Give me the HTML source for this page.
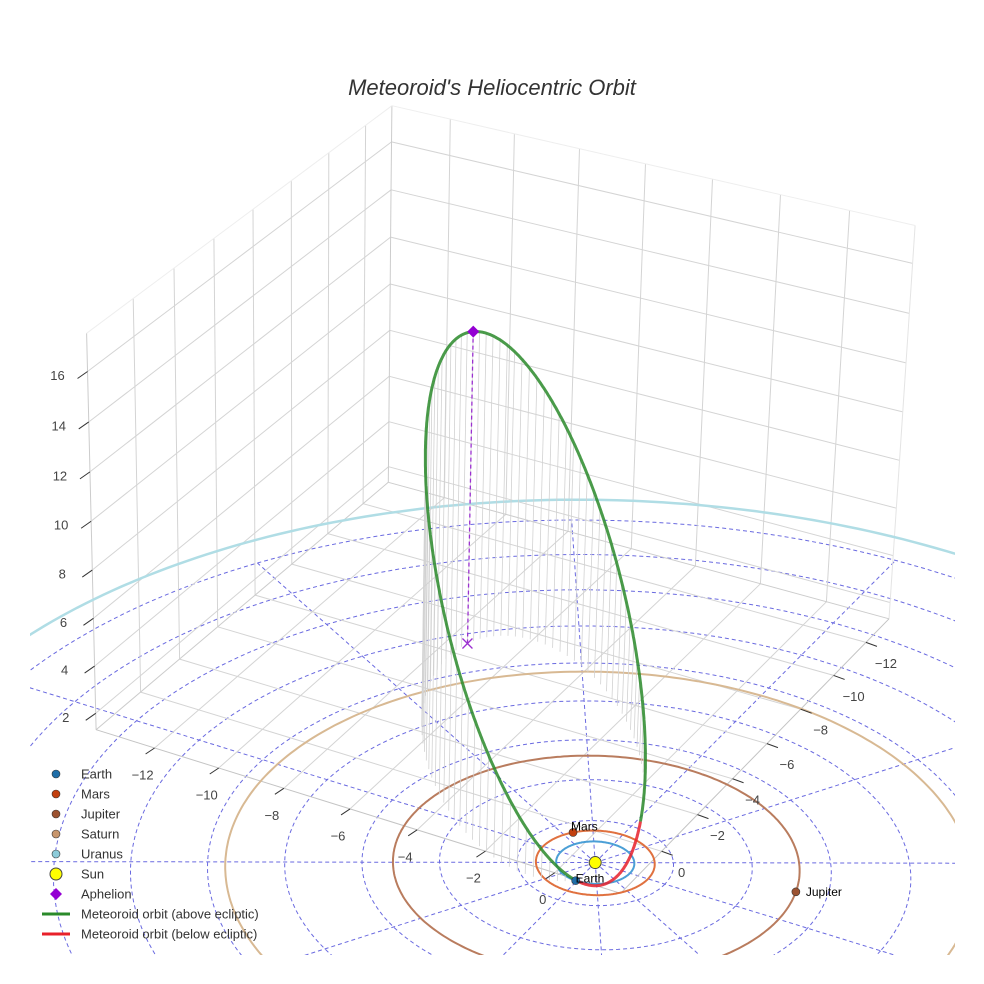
<!DOCTYPE html>
<html><head><meta charset="utf-8"><style>
html,body{margin:0;padding:0;background:#fff;overflow:hidden;width:984px;height:984px;}
svg{display:block;font-family:"Liberation Sans",sans-serif;overflow:hidden;}
</style></head><body>
<svg id="chart" width="984" height="984" viewBox="0 0 984 984">
<defs><clipPath id="eclip"><rect x="30" y="0" width="925" height="955"/></clipPath></defs>
<rect width="984" height="984" fill="#fff"/>
<text x="492" y="95" text-anchor="middle" font-size="22" font-style="italic" fill="#333">Meteoroid's Heliocentric Orbit</text>
<g id="ecliptic" clip-path="url(#eclip)"></g>
<g id="box"></g>
<g id="orbits" clip-path="url(#eclip)"></g>
<g id="meteor"></g>
<g id="ticks"></g>
<g id="legend"></g>
</svg>
<script>
// ---- data ----
const planetNames = ["Earth","Mars","Jupiter","Saturn","Uranus"];
const planetRadiiAU = [1.0, 1.52, 5.2, 9.54, 19.2];
const planetAnglesDeg = [92, 220, 345, 55, 70];
const orbitA = 9.1, orbitE = 0.921, orbitIncDeg = 123, orbitNodeDeg = 272.5, orbitPeriDeg = 244;
const xTicks = [-12,-10,-8,-6,-4,-2,0];
const yTicks = [-12,-10,-8,-6,-4,-2,0];
const zTicks = [2,4,6,8,10,12,14,16];
const gridRadii = [2,4,6,8,10,12,14,16,18];
const gridAngles = [0,30,60,90,120,150,180,210,240,270,300,330];
const gridMaxR = 18;
// ---- layout / styles ----
const planetOrbitColors = ["#4b9fd6","#e0713f","#b97c5e","#d8b993","#b0dde5"];
const planetMarkerColors = ["#1f6ea8","#c2400f","#9c5230","#c8966c","#8ccbd9"];
const labelDx = [0,-2,10], labelDy = [2,-2,4];
const R = {xmin:-13.85,xmax:1.87,ymin:-13.45,ymax:2.24,zmin:1.3,zmax:17.5};
const calib = [
 [R.xmin,R.ymin,R.zmax,401,102],[R.xmax,R.ymin,R.zmax,911,230],[R.xmin,R.ymax,R.zmax,81,333],
 [R.xmin,R.ymin,R.zmin,378,493],[R.xmax,R.ymin,R.zmin,895,612],[R.xmin,R.ymax,R.zmin,99,726],
 [0,0,0,596,866],[0,R.ymax,R.zmin,557,875],[-12,R.ymax,R.zmin,159,743],
 [R.xmax,0,R.zmin,658,853],[R.xmax,-12,R.zmin,866,636],[0,0,R.zmin,596,832],[R.xmax,R.ymax,R.zmin,619,896]];
function solve(A,b){const n=b.length;for(let i=0;i<n;i++){let m=i;for(let k=i+1;k<n;k++)if(Math.abs(A[k][i])>Math.abs(A[m][i]))m=k;[A[i],A[m]]=[A[m],A[i]];[b[i],b[m]]=[b[m],b[i]];for(let k=i+1;k<n;k++){const f=A[k][i]/A[i][i];for(let j=i;j<n;j++)A[k][j]-=f*A[i][j];b[k]-=f*b[i];}}const x=new Array(n).fill(0);for(let i=n-1;i>=0;i--){let s=b[i];for(let j=i+1;j<n;j++)s-=A[i][j]*x[j];x[i]=s/A[i][i];}return x;}
const M=[],B=[];
calib.forEach(([X,Y,Z,u,v])=>{M.push([X,Y,Z,1,0,0,0,0,-u*X,-u*Y,-u*Z]);B.push(u);M.push([0,0,0,0,X,Y,Z,1,-v*X,-v*Y,-v*Z]);B.push(v);});
const N=Array.from({length:11},()=>new Array(11).fill(0)),Nb=new Array(11).fill(0);
for(let r=0;r<M.length;r++){for(let i=0;i<11;i++){Nb[i]+=M[r][i]*B[r];for(let j=0;j<11;j++)N[i][j]+=M[r][i]*M[r][j];}}
const P=solve(N,Nb);
function proj(x,y,z){const w=P[8]*x+P[9]*y+P[10]*z+1;return [(P[0]*x+P[1]*y+P[2]*z+P[3])/w,(P[4]*x+P[5]*y+P[6]*z+P[7])/w,w];}
const NS='http://www.w3.org/2000/svg';
function el(tag,attrs,parent){const e=document.createElementNS(NS,tag);for(const k in attrs)e.setAttribute(k,attrs[k]);parent.appendChild(e);return e;}
function pathFrom(pts){let d='';let pen=false;pts.forEach(p=>{if(p[2]<=0.05){pen=false;return;}d+=(pen?'L':'M')+p[0].toFixed(1)+' '+p[1].toFixed(1);pen=true;});return d;}
function line3(a,b,n){const pts=[];for(let i=0;i<=n;i++){const t=i/n;pts.push(proj(a[0]+(b[0]-a[0])*t,a[1]+(b[1]-a[1])*t,a[2]+(b[2]-a[2])*t));}return pathFrom(pts);}
function circle3(r,n){const pts=[];for(let i=0;i<=n;i++){const t=i/n*2*Math.PI;pts.push(proj(r*Math.cos(t),r*Math.sin(t),0));}return pathFrom(pts);}
const D=Math.PI/180;
const ecl=document.getElementById('ecliptic');
gridRadii.forEach(r=>{const e=el('path',{d:circle3(r,240),fill:'none',stroke:'#6a6ae0','stroke-width':1,'stroke-dasharray':'4,3'},ecl);

});
gridAngles.forEach(a=>{const e=el('path',{d:line3([0,0,0],[gridMaxR*Math.cos(a*D),gridMaxR*Math.sin(a*D),0],60),fill:'none',stroke:'#6a6ae0','stroke-width':1,'stroke-dasharray':'4,3'},ecl);

});
const box=document.getElementById('box');
function gl(a,b,c,w,name){const e=el('path',{d:line3(a,b,4),fill:'none',stroke:c,'stroke-width':w},box);

}
const g='#d4d4d4';
xTicks.forEach(x=>{gl([x,R.ymin,R.zmin],[x,R.ymin,R.zmax],g,1,'back-wall-gridline');gl([x,R.ymin,R.zmin],[x,R.ymax,R.zmin],g,1,'floor-gridline');});
yTicks.forEach(y=>{gl([R.xmin,y,R.zmin],[R.xmin,y,R.zmax],g,1,'side-wall-gridline');gl([R.xmin,y,R.zmin],[R.xmax,y,R.zmin],g,1,'floor-gridline');});
zTicks.forEach(z=>{gl([R.xmin,R.ymin,z],[R.xmax,R.ymin,z],g,1,'back-wall-gridline');gl([R.xmin,R.ymin,z],[R.xmin,R.ymax,z],g,1,'side-wall-gridline');});
gl([R.xmin,R.ymin,R.zmin],[R.xmin,R.ymin,R.zmax],'#ccc',1,'box-edge');
gl([R.xmax,R.ymin,R.zmin],[R.xmax,R.ymin,R.zmax],'#e4e4e4',1,'box-edge');
gl([R.xmin,R.ymax,R.zmin],[R.xmin,R.ymax,R.zmax],'#ccc',1,'box-edge');
gl([R.xmin,R.ymin,R.zmax],[R.xmax,R.ymin,R.zmax],'#eee',1,'box-edge');
gl([R.xmin,R.ymin,R.zmax],[R.xmin,R.ymax,R.zmax],'#eee',1,'box-edge');
gl([R.xmin,R.ymin,R.zmin],[R.xmax,R.ymin,R.zmin],'#ccc',1,'box-edge');
gl([R.xmin,R.ymin,R.zmin],[R.xmin,R.ymax,R.zmin],'#ccc',1,'box-edge');
gl([R.xmin,R.ymax,R.zmin],[R.xmax,R.ymax,R.zmin],'#c4c4c4',1,'x-axis-line');
gl([R.xmax,R.ymin,R.zmin],[R.xmax,R.ymax,R.zmin],'#c4c4c4',1,'y-axis-line');
const orb=document.getElementById('orbits');
planetRadiiAU.forEach((r,i)=>{const e=el('path',{d:circle3(r,360),fill:'none',stroke:planetOrbitColors[i],'stroke-width':i==4?2.5:2},orb);

});
const met=document.getElementById('meteor');
const b=orbitA*Math.sqrt(1-orbitE*orbitE),I=orbitIncDeg*D,O=orbitNodeDeg*D,W=orbitPeriDeg*D;
function orbitPos(E){const xo=orbitA*(Math.cos(E)-orbitE),yo=b*Math.sin(E);
return [xo*(Math.cos(O)*Math.cos(W)-Math.sin(O)*Math.sin(W)*Math.cos(I))-yo*(Math.cos(O)*Math.sin(W)+Math.sin(O)*Math.cos(W)*Math.cos(I)),
xo*(Math.sin(O)*Math.cos(W)+Math.cos(O)*Math.sin(W)*Math.cos(I))+yo*(Math.cos(O)*Math.cos(W)*Math.cos(I)-Math.sin(O)*Math.sin(W)),
xo*Math.sin(W)*Math.sin(I)+yo*Math.cos(W)*Math.sin(I)];}
const samples=[];for(let k=0;k<=720;k++)samples.push(orbitPos(k/720*2*Math.PI));
samples.forEach((p,k)=>{if(k%8===0&&p[2]>0.3){const e=el('path',{d:line3([p[0],p[1],p[2]],[p[0],p[1],0],2),stroke:'#d2d2d2','stroke-width':0.8,fill:'none'},met);

}});
const ap=orbitPos(Math.PI);
const apl=el('path',{d:line3(ap,[ap[0],ap[1],0],2),stroke:'#9b30d0','stroke-width':1.3,'stroke-dasharray':'4,3',fill:'none'},met);


let seg=[],cur=null;
function flush(){if(seg.length>1){const e=el('path',{d:pathFrom(seg),fill:'none',stroke:cur?'#2a8a2a':'#e8202a','stroke-width':3,'stroke-opacity':0.85,'stroke-linejoin':'round'},met);

}}
samples.forEach(p=>{const up=p[2]>=0;const q=proj(p[0],p[1],p[2]);if(cur===null)cur=up;if(up!==cur){seg.push(q);flush();seg=[q];cur=up;}else seg.push(q);});flush();
const apS=proj(ap[0],ap[1],ap[2]);
const dm=el('path',{d:`M${apS[0]} ${apS[1]-6}L${apS[0]+6} ${apS[1]}L${apS[0]} ${apS[1]+6}L${apS[0]-6} ${apS[1]}Z`,fill:'#9400d3'},met);


const ft=proj(ap[0],ap[1],0);
const xm=el('path',{d:`M${ft[0]-5} ${ft[1]-5}L${ft[0]+5} ${ft[1]+5}M${ft[0]+5} ${ft[1]-5}L${ft[0]-5} ${ft[1]+5}`,stroke:'#9b30d0','stroke-width':1.3},met);


const sp=proj(0,0,0);
const sun=el('circle',{cx:sp[0],cy:sp[1],r:6,fill:'#ffff00',stroke:'#444','stroke-width':1},met);


const pg=el('g',{'clip-path':'url(#eclip)'},met);


planetNames.forEach((n,i)=>{const a=planetAnglesDeg[i]*D,r=planetRadiiAU[i];const q=proj(r*Math.cos(a),r*Math.sin(a),0);
const c=el('circle',{cx:q[0],cy:q[1],r:4,fill:planetMarkerColors[i],stroke:'#333','stroke-width':0.6},pg);


if(i<3){const t=el('text',{x:q[0]+labelDx[i],y:q[1]+labelDy[i],'font-size':12,fill:'#000'},pg);t.textContent=n;

}});
const tk=document.getElementById('ticks');
function tick(base,dx,dy,lx,ly,label,anchor,name){const e=el('path',{d:`M${base[0]} ${base[1]}l${dx} ${dy}`,stroke:'#333','stroke-width':1},tk);


const t=el('text',{x:base[0]+lx,y:base[1]+ly+4.5,'font-size':13,fill:'#444','text-anchor':anchor},tk);t.textContent=label;

}
const fmt=v=>v<0?'\u2212'+Math.abs(v):String(v);
xTicks.forEach(x=>tick(proj(x,R.ymax,R.zmin),-9,6,-12,27,fmt(x),'middle','x-tick'));
yTicks.forEach(y=>tick(proj(R.xmax,y,R.zmin),11,4,20,21,fmt(y),'middle','y-tick'));
zTicks.forEach(z=>tick(proj(R.xmin,R.ymax,z),-10,7,-30,4,fmt(z),'middle','z-tick'));
const lg=document.getElementById('legend');
const legendNames=["Earth","Mars","Jupiter","Saturn","Uranus","Sun","Aphelion","Meteoroid orbit (above ecliptic)","Meteoroid orbit (below ecliptic)"];
legendNames.forEach((n,i)=>{const y=774+i*20;const gi=el('g',{},lg);


if(i<5)el('circle',{cx:56,cy:y,r:4,fill:planetMarkerColors[i],stroke:'#333','stroke-width':0.6},gi);
else if(i===5)el('circle',{cx:56,cy:y,r:6,fill:'#ffff00',stroke:'#444','stroke-width':1},gi);
else if(i===6)el('path',{d:`M56 ${y-6}L62 ${y}L56 ${y+6}L50 ${y}Z`,fill:'#9400d3'},gi);
else el('path',{d:`M42 ${y}h28`,stroke:i===7?'#2a8a2a':'#e8202a','stroke-width':3},gi);
const t=el('text',{x:81,y:y+4.5,'font-size':13,fill:'#333'},gi);t.textContent=n;});
</script>
</body></html>
